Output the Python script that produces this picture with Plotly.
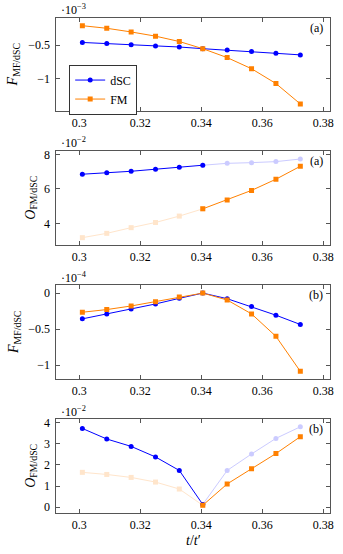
import plotly.graph_objects as go

# ---- data ----
x_vals = [0.301, 0.309, 0.317, 0.325, 0.3328, 0.3405, 0.3485, 0.3565, 0.3645, 0.3725]

# panel (a) top: F_MF/dSC (x1e-3)
fa_dsc = [-0.462, -0.477, -0.496, -0.515, -0.529, -0.554, -0.573, -0.597, -0.622, -0.645]
fa_fm = [-0.215, -0.253, -0.307, -0.369, -0.448, -0.554, -0.685, -0.849, -1.067, -1.368]

# panel (a) order parameter: O_FM/dSC (x1e-2)
oa_dsc = [6.85, 6.93, 7.02, 7.14, 7.25, 7.37, 7.48, 7.52, 7.58, 7.73]
oa_fm = [3.17, 3.42, 3.75, 4.05, 4.42, 4.84, 5.36, 5.91, 6.56, 7.31]

# panel (b) free energy (x1e-4)
fb_dsc = [-0.358, -0.289, -0.220, -0.151, -0.073, 0.0, -0.078, -0.188, -0.307, -0.436]
fb_fm = [-0.266, -0.229, -0.179, -0.119, -0.055, 0.0, -0.096, -0.289, -0.601, -1.087]

# panel (b) order parameter (x1e-2)
ob_dsc = [3.73, 3.23, 2.88, 2.38, 1.74, 0.13, 1.74, 2.52, 3.26, 3.81]
ob_fm = [1.65, 1.55, 1.41, 1.19, 0.86, 0.09, 1.10, 1.82, 2.54, 3.34]

series_names = ["dSC", "FM"]
exponents = ["·10<sup>−3</sup>", "·10<sup>−2</sup>", "·10<sup>−4</sup>", "·10<sup>−2</sup>"]
panel_tags = ["(a)", "(a)", "(b)", "(b)"]
ylabels = ["<i>F</i><sub>MF/dSC</sub>", "<i>O</i><sub>FM/dSC</sub>",
           "<i>F</i><sub>MF/dSC</sub>", "<i>O</i><sub>FM/dSC</sub>"]
x_ticks = [0.30, 0.32, 0.34, 0.36, 0.38]
x_ticktext = ["0.3", "0.32", "0.34", "0.36", "0.38"]
y_ticks = [[-1, -0.5], [4, 6, 8], [-1, -0.5, 0], [0, 1, 2, 3, 4]]
y_ranges = [[-1.475, -0.1], [2.73, 8.2], [-1.197, 0.113], [-0.29, 4.18]]

# ---- style ----
W, H = 343, 554
BLUE = "#0000ff"
ORANGE = "#ff8000"
FONT = "Liberation Serif, DejaVu Serif, serif"
AX = "#555555"
frames = [(15, 109), (149, 244), (284, 379), (419, 514)]
xl, xr = 57, 334

fig = go.Figure()

def add(xs, ys, color, symbol, panel, opacity=1.0, name=None, show=False):
    suffix = "" if panel == 1 else str(panel)
    fig.add_trace(go.Scatter(
        x=xs, y=ys, mode="lines+markers",
        line=dict(color=color, width=1),
        marker=dict(color=color, symbol=symbol, size=5),
        opacity=opacity, name=name, showlegend=show,
        xaxis="x" + suffix, yaxis="y" + suffix,
    ))

# panel 1
add(x_vals, fa_dsc, BLUE, "circle", 1, name=series_names[0], show=True)
add(x_vals, fa_fm, ORANGE, "square", 1, name=series_names[1], show=True)
# panel 2
s = 5
add(x_vals[:s + 1], oa_dsc[:s + 1], BLUE, "circle", 2)
add(x_vals[:s + 1], oa_fm[:s + 1], ORANGE, "square", 2, opacity=0.2)
add(x_vals[s:], oa_dsc[s:], BLUE, "circle", 2, opacity=0.2)
add(x_vals[s:], oa_fm[s:], ORANGE, "square", 2)
# panel 3
add(x_vals, fb_dsc, BLUE, "circle", 3)
add(x_vals, fb_fm, ORANGE, "square", 3)
# panel 4
add(x_vals[:s + 1], ob_dsc[:s + 1], BLUE, "circle", 4)
add(x_vals[:s + 1], ob_fm[:s + 1], ORANGE, "square", 4, opacity=0.2)
add(x_vals[s:], ob_dsc[s:], BLUE, "circle", 4, opacity=0.2)
add(x_vals[s:], ob_fm[s:], ORANGE, "square", 4)

layout = dict(
    width=W, height=H,
    margin=dict(l=0, r=0, t=0, b=0),
    paper_bgcolor="white", plot_bgcolor="white",
    font=dict(family=FONT, size=12, color="black"),
    legend=dict(x=70 / W, y=1 - 62 / H, xanchor="left", yanchor="top",
                bgcolor="white", bordercolor="#333333", borderwidth=1,
                font=dict(size=12, family=FONT), tracegroupgap=0,
                itemwidth=30),
)
annotations = []
for i, (top, bot) in enumerate(frames):
    suffix = "" if i == 0 else str(i + 1)
    dom_y = [1 - bot / H, 1 - top / H]
    layout["xaxis" + suffix] = dict(
        domain=[xl / W, xr / W], range=[0.29246, 0.38227], anchor="y" + suffix,
        tickvals=x_ticks, ticktext=x_ticktext, ticks="inside", ticklen=4,
        tickcolor=AX, showline=True, linecolor=AX, linewidth=1, mirror="ticks",
        showgrid=False, zeroline=False, tickfont=dict(size=12, family=FONT),
    )
    layout["yaxis" + suffix] = dict(
        domain=dom_y, range=y_ranges[i], anchor="x" + suffix,
        tickvals=y_ticks[i], ticks="inside", ticklen=4, tickcolor=AX,
        showline=True, linecolor=AX, linewidth=1, mirror="ticks",
        showgrid=False, zeroline=False, tickfont=dict(size=12, family=FONT),
        ticklabelstandoff=3,
    )
    annotations.append(dict(text=exponents[i], x=60 / W, y=1 - (top - 8) / H,
                            xref="paper", yref="paper", xanchor="left",
                            yanchor="middle", showarrow=False,
                            font=dict(size=12, family=FONT)))
    annotations.append(dict(text=panel_tags[i], x=329 / W, y=1 - (top + 10) / H,
                            xref="paper", yref="paper", xanchor="right",
                            yanchor="middle", showarrow=False,
                            font=dict(size=12, family=FONT)))
    lx = 14 if i % 2 == 0 else 31
    annotations.append(dict(text=ylabels[i], x=lx / W, y=1 - (top + bot) / 2 / H,
                            xref="paper", yref="paper", xanchor="center",
                            yanchor="middle", showarrow=False, textangle=-90,
                            font=dict(size=14, family=FONT)))

annotations.append(dict(text="<i>t</i>/<i>t</i>′", x=(xl + xr) / 2 / W,
                        y=1 - 541 / H, xref="paper", yref="paper",
                        xanchor="center", yanchor="middle", showarrow=False,
                        font=dict(size=14, family=FONT)))
layout["annotations"] = annotations
fig.update_layout(**layout)
fig.write_html("out.html",
               config={"displayModeBar": False},
               post_script="document.body.style.margin='0px';document.body.style.overflow='hidden';")
